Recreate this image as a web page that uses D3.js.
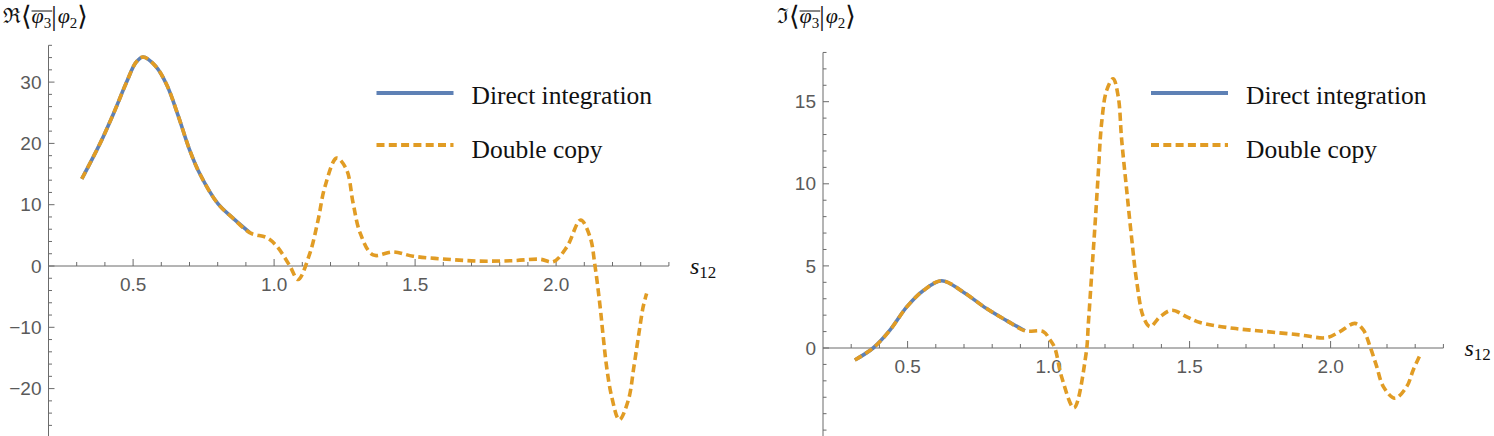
<!DOCTYPE html>
<html><head><meta charset="utf-8">
<script src="https://cdn.jsdelivr.net/npm/d3@7"></script>
<style>html,body{margin:0;padding:0;background:#fff;}svg{display:block;}</style>
</head><body>
<svg id="chart" width="1494" height="436"></svg>
<script>
// ---------- data ----------
const directS   = [0.318,0.383,0.43,0.477,0.51,0.535,0.58,0.62,0.66,0.70,0.737,0.80,0.854,0.915];
const directRe  = [14.2,20.0,24.8,30.0,33.2,34.1,32.6,29.5,24.5,19.0,15.0,10.2,7.8,5.4];
const copyReS   = [0.318,0.383,0.43,0.477,0.51,0.535,0.58,0.62,0.66,0.70,0.737,0.80,0.854,0.915,0.975,1.01,1.056,1.085,1.127,1.156,1.18,1.222,1.257,1.28,1.305,1.351,1.422,1.493,1.612,1.73,1.847,1.943,1.99,2.038,2.087,2.12,2.138,2.156,2.167,2.179,2.197,2.224,2.256,2.276,2.292,2.309,2.321];
const copyRe    = [14.2,20.0,24.8,30.0,33.2,34.1,32.6,29.5,24.5,19.0,15.0,10.2,7.8,5.4,4.6,3.2,0,-2.2,2.1,7.5,12.9,17.6,15.7,10.3,5.4,1.8,2.3,1.6,1.1,0.8,0.87,1.1,0.7,3.1,7.5,4.8,0,-6.6,-11.5,-16.4,-21.3,-25.1,-21.9,-16.4,-11.5,-6.6,-4.5];

const directImS = [0.313,0.378,0.438,0.497,0.556,0.621,0.698,0.78,0.851,0.916];
const directIm  = [-0.73,0.0,1.1,2.5,3.5,4.1,3.4,2.4,1.67,1.05];
const copyImS   = [0.313,0.378,0.438,0.497,0.556,0.621,0.698,0.78,0.851,0.916,0.981,1.005,1.022,1.046,1.09,1.133,1.141,1.153,1.165,1.176,1.188,1.206,1.229,1.247,1.259,1.277,1.295,1.312,1.336,1.36,1.395,1.437,1.49,1.537,1.655,1.773,1.89,1.986,2.033,2.086,2.116,2.14,2.163,2.187,2.228,2.27,2.293,2.317];
const copyIm    = [-0.73,0.0,1.1,2.5,3.5,4.1,3.4,2.4,1.67,1.05,1.0,0.5,0.0,-1.75,-3.65,-0.33,1.5,4.55,7.6,10.6,13.7,15.7,16.4,15.3,12.7,9.6,6.6,4.1,1.9,1.3,1.9,2.3,1.9,1.55,1.2,1.0,0.8,0.63,1.0,1.5,1.1,0.08,-1.1,-2.35,-3.06,-2.35,-1.34,-0.43];

const xMajor = [0.5,1.0,1.5,2.0];
const reMajor = [-20,-10,0,10,20,30];
const imMajor = [0,5,10,15];
const legendLabels = ["Direct integration","Double copy"];

// ---------- style ----------
const BLUE = "#5E81B5", ORANGE = "#E19C24";
const AXIS = "#6b6b6b", TICKTXT = "#5a5a5a";
const svg = d3.select("#chart");

function panel(opt){
  const g = svg.append("g");
  const x = d3.scaleLinear().domain([0.2,2.4]).range([opt.x0, opt.x0 + 2.2*282]);
  const y = d3.scaleLinear().domain(opt.ydom).range([opt.y0 - opt.ydom[0]*opt.ppu, opt.y0 - opt.ydom[1]*opt.ppu]);
  const xMinor = d3.range(3,25).map(d=>d/10).filter(d=>!xMajor.some(m=>Math.abs(m-d)<1e-9));
  const yMinor = d3.range(Math.ceil(opt.ydom[0]/opt.minorStep), Math.floor(opt.ydom[1]/opt.minorStep)+1)
                   .map(d=>d*opt.minorStep).filter(d=>!opt.major.includes(d));

  // x axis
  const xa = g.append("g").attr("transform",`translate(0,${y(0)})`);
  xa.append("line").attr("x1",x(0.2)).attr("x2",x(2.4)).attr("stroke",AXIS).attr("stroke-width",1);
  xa.selectAll(".xmin").data(xMinor).join("line").attr("x1",d=>x(d)).attr("x2",d=>x(d)).attr("y1",0).attr("y2",-4).attr("stroke",AXIS);
  xa.selectAll(".xmaj").data(xMajor).join("line").attr("x1",d=>x(d)).attr("x2",d=>x(d)).attr("y1",0).attr("y2",-7).attr("stroke",AXIS);
  xa.selectAll(".xl").data(xMajor).join("text").attr("x",d=>x(d)).attr("y",25).attr("text-anchor","middle")
    .attr("font-family","Liberation Sans, Arial, sans-serif").attr("font-size",19).attr("fill",TICKTXT).text(d=>d.toFixed(1));

  // y axis
  const ya = g.append("g").attr("transform",`translate(${x(0.2)},0)`);
  ya.append("line").attr("y1",y(opt.ydom[0])).attr("y2",y(opt.ydom[1])).attr("stroke",AXIS);
  ya.selectAll(".ymin").data(yMinor).join("line").attr("y1",d=>y(d)).attr("y2",d=>y(d)).attr("x1",0).attr("x2",3.5).attr("stroke",AXIS);
  ya.selectAll(".ymaj").data(opt.major).join("line").attr("y1",d=>y(d)).attr("y2",d=>y(d)).attr("x1",0).attr("x2",6).attr("stroke",AXIS);
  ya.selectAll(".yl").data(opt.major).join("text").attr("x",-7).attr("y",d=>y(d)+6.6).attr("text-anchor","end")
    .attr("font-family","Liberation Sans, Arial, sans-serif").attr("font-size",19).attr("fill",TICKTXT)
    .text(d=> d<0 ? "\u2212"+Math.abs(d) : String(d));

  // axis label s12
  const lab = g.append("text").attr("x",x(2.4)+21).attr("y",y(0)+8).attr("font-family","Liberation Serif, serif").attr("fill","#111");
  lab.append("tspan").attr("font-style","italic").attr("font-size",24).text("s");
  lab.append("tspan").attr("font-size",17).attr("dy",4).text("12");

  // curves
  const line = d3.line().x(d=>x(d[0])).y(d=>y(d[1])).curve(d3.curveCatmullRom.alpha(0.5));
  g.append("path").datum(d3.zip(opt.dS,opt.dV)).attr("d",line).attr("fill","none").attr("stroke",BLUE).attr("stroke-width",3.6);
  g.append("path").datum(d3.zip(opt.cS,opt.cV)).attr("d",line).attr("fill","none").attr("stroke",ORANGE).attr("stroke-width",3.6).attr("stroke-dasharray","8,4.3");

  // legend
  const lx = opt.x0 + 328;
  g.append("line").attr("x1",lx).attr("x2",lx+77).attr("y1",93).attr("y2",93).attr("stroke",BLUE).attr("stroke-width",4);
  g.append("line").attr("x1",lx).attr("x2",lx+77).attr("y1",145).attr("y2",145).attr("stroke",ORANGE).attr("stroke-width",4).attr("stroke-dasharray","8,4.3");
  g.selectAll(".lg").data(legendLabels).join("text").attr("x",lx+95).attr("y",(d,i)=>i?158:104)
    .attr("font-family","Liberation Serif, serif").attr("font-size",25.5).attr("fill","#111").text(d=>d);

  // title
  drawTitle(g, opt.tx, 23, opt.sym);
}

function drawTitle(g, x0, base, sym){
  const parts = [
    {t:sym, size:21},
    {t:"\u27E8", size:27, dy:2},
    {t:"\u03C6", size:22, italic:true, ovStart:true},
    {t:"3", size:15, dy:4.5, ovEnd:true},
    {t:"|", size:27, dy:2, pad:1},
    {t:"\u03C6", size:22, italic:true},
    {t:"2", size:15, dy:4.5},
    {t:"\u27E9", size:27, dy:2}
  ];
  let cx = x0, ovX = 0;
  parts.forEach(p=>{
    if(p.ovStart) ovX = cx;
    const t = g.append("text").attr("x",cx).attr("y",base+(p.dy||0)).attr("font-family","Liberation Serif, DejaVu Serif, serif")
      .attr("font-size",p.size).attr("font-style",p.italic?"italic":"normal").attr("fill","#111").text(p.t);
    cx += t.node().getComputedTextLength() + (p.pad||0);
    if(p.ovEnd){
      g.append("line").attr("x1",ovX).attr("x2",cx+1).attr("y1",base-12).attr("y2",base-12).attr("stroke","#111").attr("stroke-width",1);
    }
  });
}

panel({x0:48.5, y0:266, ppu:6.13, ydom:[-28,36], major:reMajor, minorStep:2, dS:directS, dV:directRe, cS:copyReS, cV:copyRe, tx:3, sym:"\u211C"});
panel({x0:823, y0:348, ppu:16.42, ydom:[-5.4,18], major:imMajor, minorStep:1, dS:directImS, dV:directIm, cS:copyImS, cV:copyIm, tx:777, sym:"\u2111"});
</script>
</body></html>
